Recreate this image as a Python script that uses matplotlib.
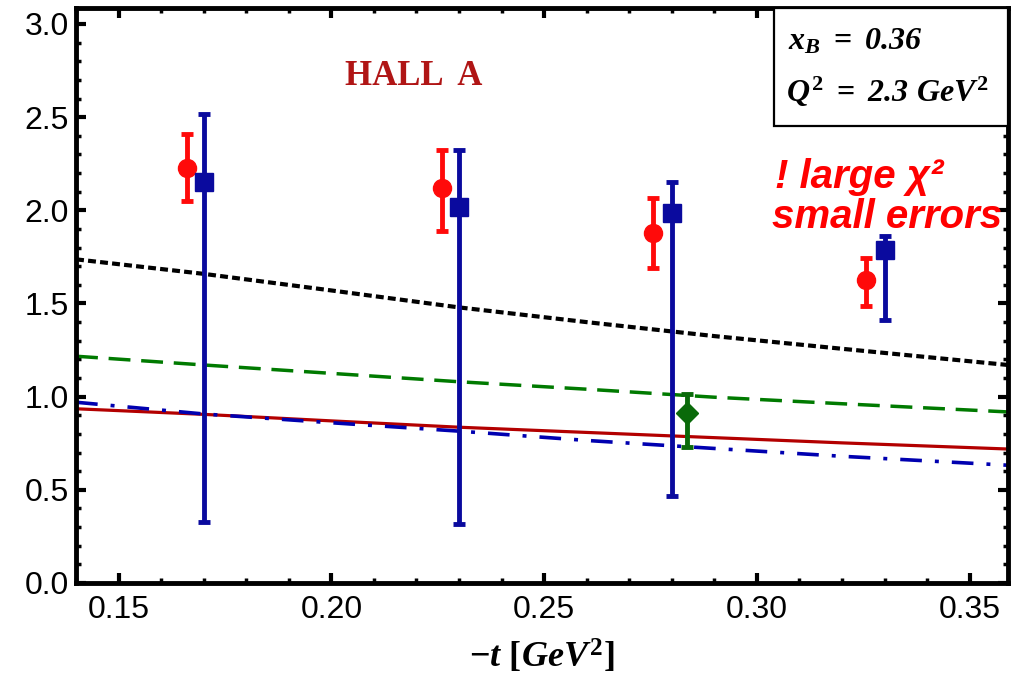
import numpy as np
import matplotlib
matplotlib.use("Agg")
import matplotlib.pyplot as plt
from matplotlib.patches import Rectangle
from matplotlib.ticker import MultipleLocator

plt.rcParams['font.family'] = ['Liberation Sans', 'DejaVu Sans']
plt.rcParams['mathtext.fontset'] = 'custom'
plt.rcParams['mathtext.it'] = 'Liberation Serif:italic:bold'
plt.rcParams['mathtext.rm'] = 'Liberation Serif:bold'
plt.rcParams['mathtext.bf'] = 'Liberation Serif:bold'
# sf slot used for italic digits
plt.rcParams['mathtext.sf'] = 'Liberation Serif:italic:bold'

# Hall A points (red circles)
t_halla = [0.166, 0.226, 0.2755, 0.3256]
y_halla = [2.229, 2.120, 1.880, 1.626]
lo_halla = [2.052, 1.889, 1.691, 1.487]
hi_halla = [2.410, 2.324, 2.068, 1.744]

# fit values (blue squares)
t_fit = [0.17, 0.23, 0.28, 0.33]
y_fit = [2.154, 2.018, 1.986, 1.787]
lo_fit = [0.329, 0.317, 0.467, 1.412]
hi_fit = [2.516, 2.324, 2.152, 1.864]

# single green point
t_green = [0.2836]
y_green = [0.911]
lo_green = [0.732]
hi_green = [1.014]

# model curves
t_curve = [0.14, 0.17, 0.20, 0.23, 0.26, 0.29, 0.32, 0.359]
y_black = [1.737, 1.659, 1.570, 1.479, 1.400, 1.325, 1.257, 1.170]
y_green_curve = [1.217, 1.170, 1.125, 1.080, 1.040, 0.997, 0.962, 0.918]
y_red_curve = [0.935, 0.905, 0.870, 0.836, 0.808, 0.780, 0.752, 0.719]
y_blue_curve = [0.970, 0.907, 0.860, 0.815, 0.765, 0.722, 0.680, 0.632]


def errs(y, lo, hi):
    y = np.asarray(y)
    return [y - np.asarray(lo), np.asarray(hi) - y]


fig = plt.figure(figsize=(10.14, 6.87), dpi=100)
ax = fig.add_axes([0.075, 0.1514, 0.919, 0.837])

ax.plot(t_curve, y_black, color='black', lw=3.0, dashes=(1.9, 1.0), zorder=2)
ax.plot(t_curve, y_green_curve, color='#007a00', lw=2.5, dashes=(6.3, 3.1), zorder=2)
ax.plot(t_curve, y_red_curve, color='#b30000', lw=2.3, zorder=2)
ax.plot(t_curve, y_blue_curve, color='#0000b0', lw=2.6,
        dashes=(6.0, 3.6, 1.1, 3.6), zorder=2)

ax.errorbar(t_halla, y_halla, yerr=errs(y_halla, lo_halla, hi_halla),
            fmt='o', color='#ff0a0a', ms=13, elinewidth=3.5, capsize=4.5,
            capthick=3.5, zorder=4)
ax.errorbar(t_fit, y_fit, yerr=errs(y_fit, lo_fit, hi_fit),
            fmt='s', color='#0a0a9e', ms=13, elinewidth=3.5, capsize=4.5,
            capthick=3.5, zorder=4)
ax.errorbar(t_green, y_green, yerr=errs(y_green, lo_green, hi_green),
            fmt='D', color='#0a6a0a', ms=11, elinewidth=3.5, capsize=4.5,
            capthick=3.5, zorder=4)

ax.set_xlim(0.14, 0.359)
ax.set_ylim(0, 3.086)
ax.xaxis.set_major_locator(MultipleLocator(0.05))
ax.xaxis.set_minor_locator(MultipleLocator(0.01))
ax.yaxis.set_major_locator(MultipleLocator(0.5))
ax.yaxis.set_minor_locator(MultipleLocator(0.1))
ax.xaxis.set_major_formatter(plt.FormatStrFormatter('%.2f'))
ax.yaxis.set_major_formatter(plt.FormatStrFormatter('%.1f'))

for s in ax.spines.values():
    s.set_linewidth(3.5)
ax.tick_params(which='both', direction='in', top=True, right=True,
               labelsize=23, width=3)
ax.tick_params(which='major', length=7)
ax.tick_params(which='minor', length=3.5, width=2.5)
ax.tick_params(axis='x', which='major', pad=9)
ax.tick_params(axis='y', which='major', pad=5)

ax.set_xlabel(r'$-t\ [GeV^2]$', fontsize=26, labelpad=9)

# parameter box in the upper right corner
ax.add_patch(Rectangle((0.749, 0.795), 0.251, 0.205, transform=ax.transAxes,
                       facecolor='white', edgecolor='black', lw=1.6, zorder=5))
ax.text(0.764, 0.927, r'$x_B\ =\ \mathsf{0.36}$', transform=ax.transAxes,
        fontsize=23, va='baseline', ha='left', zorder=6)
ax.text(0.762, 0.837, r'$Q^2\ =\ \mathsf{2.3}\ GeV^2$', transform=ax.transAxes,
        fontsize=23, va='baseline', ha='left', zorder=6)

ax.text(0.289, 0.866, 'HALL  A', transform=ax.transAxes, fontsize=25,
        family='Liberation Serif', weight='bold', color='#b01515',
        va='baseline', ha='left')

ax.text(0.750, 0.687, '! large χ²', transform=ax.transAxes, fontsize=29,
        weight='bold', style='italic', color='#ff0000', va='baseline', ha='left',
        zorder=6)
ax.text(0.747, 0.617, 'small errors', transform=ax.transAxes, fontsize=29,
        weight='bold', style='italic', color='#ff0000', va='baseline', ha='left',
        zorder=6)

fig.savefig('out.png', dpi=100)
